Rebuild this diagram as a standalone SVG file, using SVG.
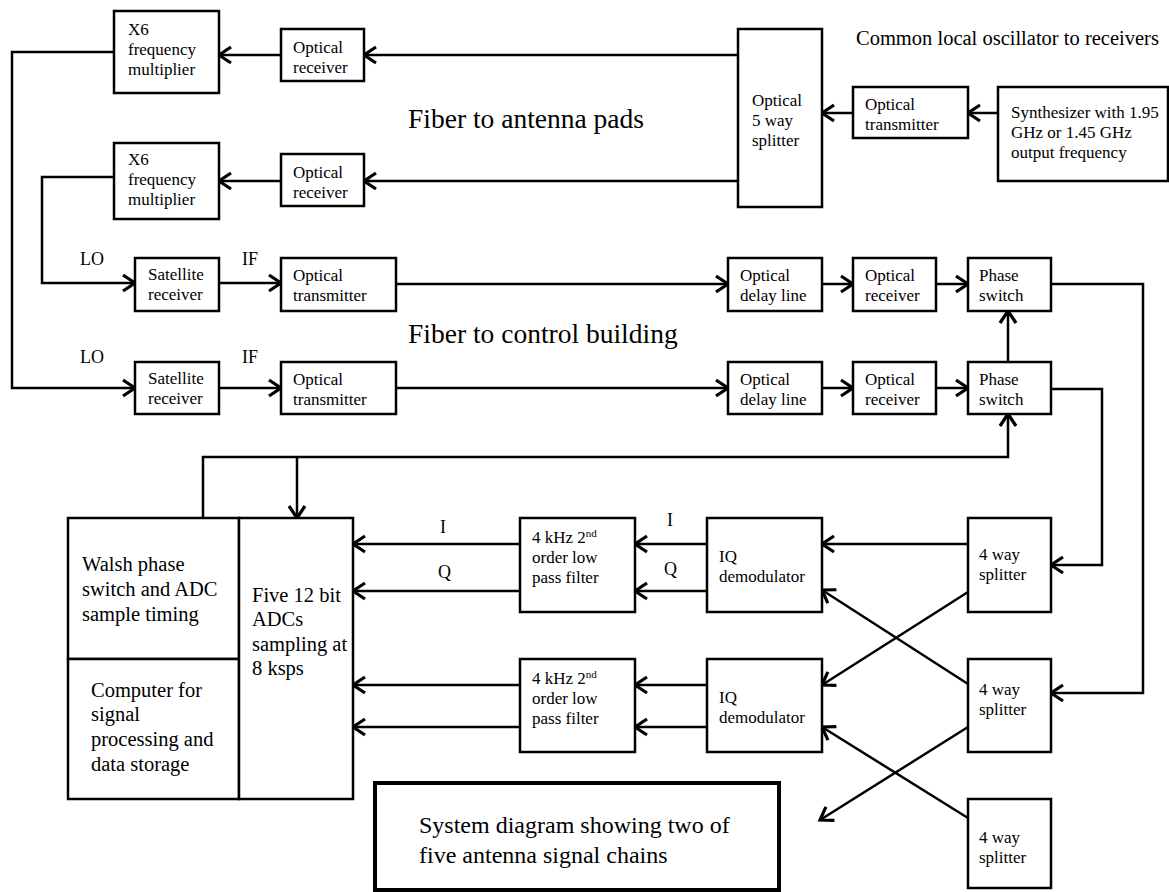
<svg xmlns="http://www.w3.org/2000/svg" width="1169" height="892" viewBox="0 0 1169 892">
<defs>
<marker id="arr" markerUnits="userSpaceOnUse" markerWidth="18" markerHeight="20" viewBox="-15 -10 18 20" refX="0" refY="0" orient="auto">
<path d="M-12,-8 L0,0 L-12,8" fill="none" stroke="#000" stroke-width="3.2" stroke-linejoin="miter"/>
</marker>
</defs>
<style>
rect{fill:#fff;stroke:#000;stroke-width:2.5}
.c path,.c line,.c polyline{fill:none;stroke:#000;stroke-width:2.5}
.a{marker-end:url(#arr)}
text{font-family:"Liberation Serif","Times New Roman",serif;fill:#000}
.t{font-size:17px}
.m{font-size:20.5px}
.l{font-size:18px}
.b{font-size:27.5px}
</style>
<rect x="0" y="0" width="1169" height="892" style="fill:#fff;stroke:none"/>

<g class="c" id="connectors">
<line class="a" x1="738" y1="55" x2="364" y2="55"/>
<line class="a" x1="281" y1="55" x2="219" y2="55"/>
<line class="a" x1="738" y1="181" x2="364" y2="181"/>
<line class="a" x1="281" y1="181" x2="219" y2="181"/>
<line class="a" x1="853" y1="113" x2="822" y2="113"/>
<line class="a" x1="998" y1="113" x2="968" y2="113"/>
<polyline class="a" points="114,52 12,52 12,388 135,388"/>
<polyline class="a" points="114,177 42,177 42,283 135,283"/>
<line class="a" x1="219" y1="283" x2="281" y2="283"/>
<line class="a" x1="219" y1="388" x2="281" y2="388"/>
<line class="a" x1="396" y1="284" x2="728" y2="284"/>
<line class="a" x1="396" y1="388" x2="728" y2="388"/>
<line class="a" x1="822" y1="284" x2="853" y2="284"/>
<line class="a" x1="936" y1="284" x2="968" y2="284"/>
<line class="a" x1="822" y1="388" x2="853" y2="388"/>
<line class="a" x1="936" y1="388" x2="968" y2="388"/>
<line class="a" x1="1008" y1="362" x2="1008" y2="311"/>
<polyline class="a" points="203,518 203,457 1008,457 1008,414"/>
<line class="a" x1="297" y1="457" x2="297" y2="518"/>
<polyline class="a" points="1051,284 1143,284 1143,693 1051,693"/>
<polyline class="a" points="1051,389 1102,389 1102,565 1051,565"/>
<line class="a" x1="968" y1="544" x2="822" y2="544"/>
<line class="a" x1="968" y1="592" x2="822" y2="685"/>
<line class="a" x1="968" y1="684" x2="822" y2="590"/>
<line class="a" x1="968" y1="818" x2="822" y2="727"/>
<line class="a" x1="968" y1="727" x2="820" y2="820"/>
<line class="a" x1="707" y1="544" x2="635" y2="544"/>
<line class="a" x1="707" y1="591" x2="635" y2="591"/>
<line class="a" x1="707" y1="685" x2="635" y2="685"/>
<line class="a" x1="707" y1="727" x2="635" y2="727"/>
<line class="a" x1="520" y1="544" x2="353" y2="544"/>
<line class="a" x1="520" y1="591" x2="353" y2="591"/>
<line class="a" x1="520" y1="685" x2="353" y2="685"/>
<line class="a" x1="520" y1="727" x2="353" y2="727"/>
</g>

<g id="labels">
<text class="b" x="408" y="128">Fiber to antenna pads</text>
<text class="b" x="408" y="343">Fiber to control building</text>
<text class="m" x="856" y="45">Common local oscillator to receivers</text>
<text class="l" x="80" y="265">LO</text>
<text class="l" x="242" y="265">IF</text>
<text class="l" x="80" y="363">LO</text>
<text class="l" x="242" y="363">IF</text>
<text class="l" x="440" y="533">I</text>
<text class="l" x="438" y="578">Q</text>
<text class="l" x="667" y="526">I</text>
<text class="l" x="664" y="575">Q</text>
</g>

<g id="x6a"><rect x="114" y="11" width="105" height="82"/><text class="t" x="128" y="35">X6</text><text class="t" x="128" y="55">frequency</text><text class="t" x="128" y="75">multiplier</text></g>
<g id="x6b"><rect x="114" y="143" width="105" height="76"/><text class="t" x="128" y="165">X6</text><text class="t" x="128" y="185">frequency</text><text class="t" x="128" y="205">multiplier</text></g>
<g id="orxa"><rect x="281" y="29" width="83" height="52"/><text class="t" x="293" y="53">Optical</text><text class="t" x="293" y="73">receiver</text></g>
<g id="orxb"><rect x="281" y="154" width="83" height="52"/><text class="t" x="293" y="178">Optical</text><text class="t" x="293" y="198">receiver</text></g>
<g id="splitter5"><rect x="738" y="29" width="84" height="178"/><text class="t" x="752" y="106">Optical</text><text class="t" x="752" y="126">5 way</text><text class="t" x="752" y="146">splitter</text></g>
<g id="otxlo"><rect x="853" y="87" width="115" height="51"/><text class="t" x="865" y="110">Optical</text><text class="t" x="865" y="130">transmitter</text></g>
<g id="synth"><rect x="998" y="87" width="170" height="94"/><text class="t" x="1011" y="118">Synthesizer with 1.95</text><text class="t" x="1011" y="138">GHz or 1.45 GHz</text><text class="t" x="1011" y="158">output frequency</text></g>

<g id="sata"><rect x="135" y="258" width="84" height="53"/><text class="t" x="148" y="280">Satellite</text><text class="t" x="148" y="300">receiver</text></g>
<g id="satb"><rect x="135" y="362" width="84" height="52"/><text class="t" x="148" y="384">Satellite</text><text class="t" x="148" y="404">receiver</text></g>
<g id="otxa"><rect x="281" y="258" width="115" height="53"/><text class="t" x="293" y="281">Optical</text><text class="t" x="293" y="301">transmitter</text></g>
<g id="otxb"><rect x="281" y="362" width="115" height="52"/><text class="t" x="293" y="385">Optical</text><text class="t" x="293" y="405">transmitter</text></g>
<g id="dla"><rect x="728" y="258" width="94" height="53"/><text class="t" x="740" y="281">Optical</text><text class="t" x="740" y="301">delay line</text></g>
<g id="dlb"><rect x="728" y="362" width="94" height="52"/><text class="t" x="740" y="385">Optical</text><text class="t" x="740" y="405">delay line</text></g>
<g id="orca"><rect x="853" y="258" width="83" height="53"/><text class="t" x="865" y="281">Optical</text><text class="t" x="865" y="301">receiver</text></g>
<g id="orcb"><rect x="853" y="362" width="83" height="52"/><text class="t" x="865" y="385">Optical</text><text class="t" x="865" y="405">receiver</text></g>
<g id="psa"><rect x="968" y="258" width="83" height="53"/><text class="t" x="979" y="281">Phase</text><text class="t" x="979" y="301">switch</text></g>
<g id="psb"><rect x="968" y="362" width="83" height="52"/><text class="t" x="979" y="385">Phase</text><text class="t" x="979" y="405">switch</text></g>

<g id="walsh"><rect x="68" y="518" width="171" height="141"/><text class="m" x="82" y="571">Walsh phase</text><text class="m" x="82" y="596">switch and ADC</text><text class="m" x="82" y="621">sample timing</text></g>
<g id="computer"><rect x="68" y="659" width="171" height="140"/><text class="m" x="91" y="697">Computer for</text><text class="m" x="91" y="721">signal</text><text class="m" x="91" y="746">processing and</text><text class="m" x="91" y="771">data storage</text></g>
<g id="adc"><rect x="239" y="518" width="114" height="281"/><text class="m" x="252" y="602">Five 12 bit</text><text class="m" x="252" y="626">ADCs</text><text class="m" x="252" y="651">sampling at</text><text class="m" x="252" y="675">8 ksps</text></g>

<g id="lpfa"><rect x="520" y="518" width="115" height="94"/><text class="t" x="532" y="543">4 kHz 2<tspan font-size="11" dy="-6">nd</tspan></text><text class="t" x="532" y="563">order low</text><text class="t" x="532" y="583">pass filter</text></g>
<g id="lpfb"><rect x="520" y="659" width="115" height="93"/><text class="t" x="532" y="684">4 kHz 2<tspan font-size="11" dy="-6">nd</tspan></text><text class="t" x="532" y="704">order low</text><text class="t" x="532" y="724">pass filter</text></g>
<g id="iqa"><rect x="707" y="518" width="115" height="94"/><text class="t" x="719" y="562">IQ</text><text class="t" x="719" y="582">demodulator</text></g>
<g id="iqb"><rect x="707" y="659" width="115" height="93"/><text class="t" x="719" y="703">IQ</text><text class="t" x="719" y="723">demodulator</text></g>
<g id="sp4a"><rect x="968" y="518" width="83" height="94"/><text class="t" x="979" y="560">4 way</text><text class="t" x="979" y="580">splitter</text></g>
<g id="sp4b"><rect x="968" y="659" width="83" height="93"/><text class="t" x="979" y="695">4 way</text><text class="t" x="979" y="715">splitter</text></g>
<g id="sp4c"><rect x="968" y="799" width="83" height="89"/><text class="t" x="979" y="843">4 way</text><text class="t" x="979" y="863">splitter</text></g>

<g id="caption"><rect x="375" y="783" width="404" height="107" style="stroke-width:4"/><text x="419" y="833" style="font-size:24px">System diagram showing two of</text><text x="419" y="863" style="font-size:24px">five antenna signal chains</text></g>
</svg>
